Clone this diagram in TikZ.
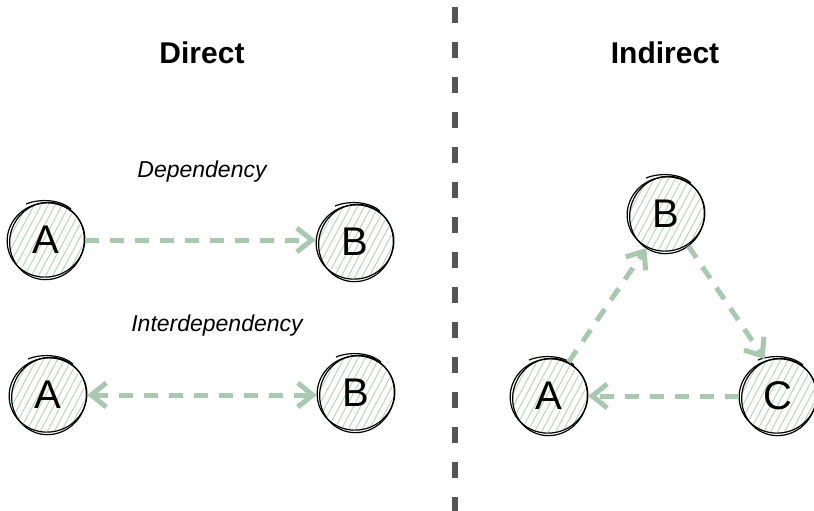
\documentclass[tikz,border=0pt]{standalone}
\usepackage{fontspec}
\setmainfont{Liberation Sans}
\usetikzlibrary{arrows.meta,calc}
\definecolor{sage}{RGB}{168,200,176}
\definecolor{hatch}{RGB}{186,212,194}
\definecolor{divider}{RGB}{85,85,85}
\tikzset{
  ball/.style={circle, minimum size=78pt, inner sep=0pt, font=\fontsize{40}{40}\selectfont},
  title/.style={font=\bfseries\fontsize{30}{30}\selectfont},
  caption/.style={font=\itshape\fontsize{23}{23}\selectfont},
  barb/.tip={Straight Barb[length=15pt,width=24pt,line width=5pt]},
  link/.style={draw=sage, line width=5pt, dash pattern=on 14pt off 11pt, -barb},
  twolink/.style={link, barb-barb},
  rim/.style={draw=black, line width=1.2pt},
}
% a hand-drawn ball: hatched fill plus a few overlapping outlines
\newcommand\sketchball[4]{% name, x, y, letter
  \begin{scope}
    \clip (#2,#3) circle (37pt);
    \foreach \k in {-11,...,11}
      \draw[hatch, line width=1pt] ($(#2,#3)+(\k*7pt,0)+(240:60pt)$) -- ++(62:120pt);
  \end{scope}
  \node[ball] (#1) at (#2,#3) {#4};
  \draw[rim] (#2,#3) ellipse [x radius=39pt, y radius=37pt, rotate=15];
  \draw[rim] ($(#2,#3)+(1pt,-1pt)$) ellipse [x radius=37pt, y radius=39pt, rotate=-25];
  \draw[rim] ($(#2,#3)+(-20pt,36pt)$) .. controls ($(#2,#3)+(-5pt,42pt)$) and ($(#2,#3)+(15pt,40pt)$) .. ($(#2,#3)+(25pt,31pt)$);
}
\begin{document}
\begin{tikzpicture}[x=1pt,y=-1pt]
  \useasboundingbox (0,0) rectangle (814,511);
  \fill[white] (0,0) rectangle (814,511);

  % divider between the two halves
  \coordinate (top) at (455,7);
  \coordinate (bot) at (455,511);
  \draw[divider, line width=6pt, dash pattern=on 16pt off 19pt] (top) -- (bot);

  % headings
  \node[title] (hdirect) at (202,53) {Direct};
  \node[title] (hindirect) at (665,53) {Indirect};

  % direct side
  \node[caption] (dep) at (202,172) {Dependency};
  \node[caption] (interdep) at (217,326) {Interdependency};

  \sketchball{a1}{46}{240}{A}
  \sketchball{b1}{355}{242}{B}
  \sketchball{a2}{48}{395}{A}
  \sketchball{b2}{356}{393}{B}

  \draw[link] (a1.east) -- (b1.west |- a1.east);
  \draw[twolink] (a2.east) -- (b2.west |- a2.east);

  % indirect side
  \sketchball{b3}{666}{214}{B}
  \sketchball{a3}{549}{396}{A}
  \sketchball{c3}{778}{396}{C}

  \draw[link] (a3.60) -- (b3.240);
  \draw[link] (b3.-55) -- (c3.110);
  \draw[link] (c3.west) -- (a3.east);
\end{tikzpicture}
\end{document}
